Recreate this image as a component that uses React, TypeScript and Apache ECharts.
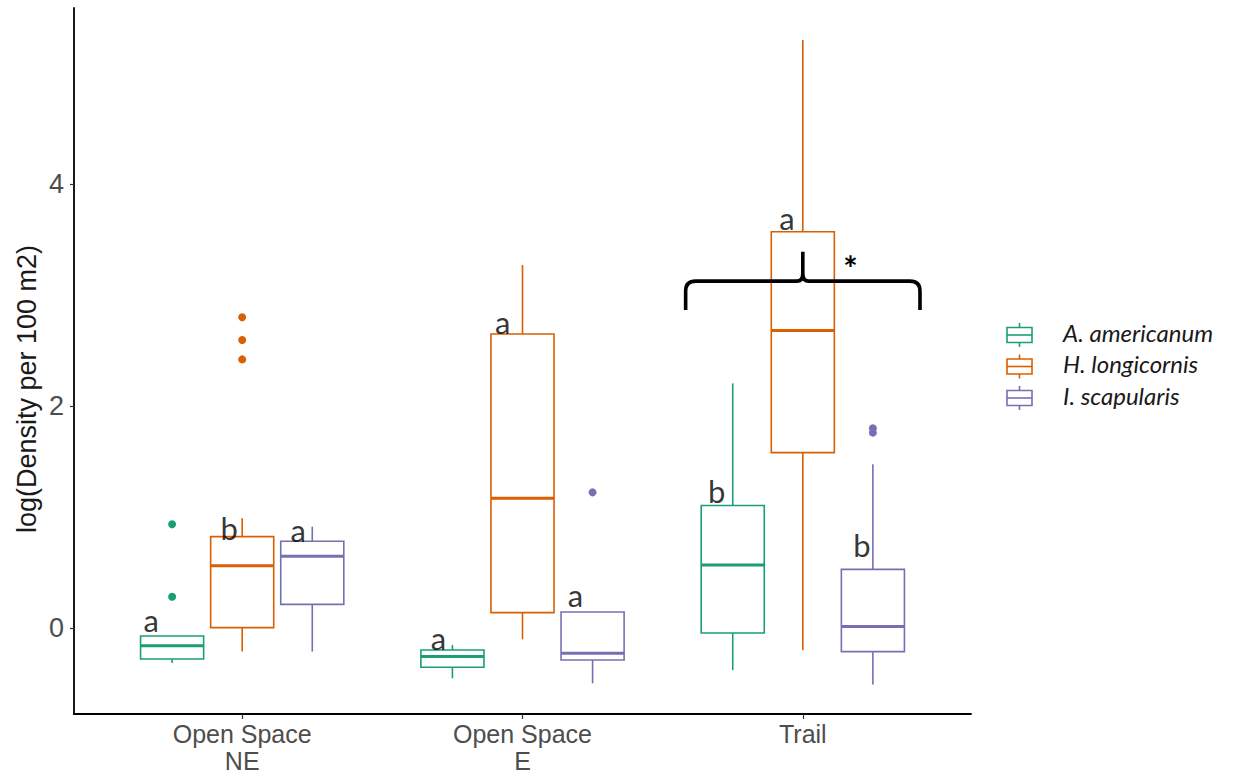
import React, { useEffect, useRef } from "react";
import * as echarts from "echarts";

// Sites on the x axis (positions 1..3)
const sites = ["Open Space\nNE", "Open Space\nE", "Trail"];
const species = ["A. americanum", "H. longicornis", "I. scapularis"];
const colors = ["#1B9E77", "#D95F02", "#7570B3"];

// Box statistics per site: [lower whisker, Q1, median, Q3, upper whisker]
const americanumStats = [
  [-0.315, -0.28, -0.16, -0.072, -0.072],
  [-0.453, -0.354, -0.258, -0.198, -0.153],
  [-0.38, -0.045, 0.567, 1.104, 2.204],
];
const longicornisStats = [
  [-0.213, 0.003, 0.561, 0.823, 0.988],
  [-0.102, 0.138, 1.168, 2.649, 3.27],
  [-0.2, 1.58, 2.68, 3.57, 5.297],
];
const scapularisStats = [
  [-0.213, 0.213, 0.646, 0.781, 0.913],
  [-0.498, -0.288, -0.228, 0.144, 0.144],
  [-0.51, -0.213, 0.013, 0.528, 1.476],
];

// Outliers: [site index (0-based), value]
const americanumOutliers = [
  [0, 0.934],
  [0, 0.282],
];
const longicornisOutliers = [
  [0, 2.8],
  [0, 2.595],
  [0, 2.42],
];
const scapularisOutliers = [
  [1, 1.222],
  [2, 1.8],
  [2, 1.76],
];

// Compact-letter labels: [x (axis units), y, letter]
const groupLetters = [
  [0.675, 0.072, "a"],
  [0.954, 0.9, "b"],
  [1.2, 0.883, "a"],
  [1.7, -0.09, "a"],
  [1.929, 2.757, "a"],
  [2.189, 0.297, "a"],
  [2.693, 1.234, "b"],
  [2.943, 3.694, "a"],
  [3.211, 0.748, "b"],
];

// Brace over the Trail site: [left x, right x, centre x, line y, end y, tip y]
const braceSpan = [2.582, 3.418, 3.0, 3.125, 2.865, 3.39];
const starMark = [3.17, 3.25];

const yTicks = [0, 2, 4];
const xTicks = [1, 2, 3];

const allStats = [americanumStats, longicornisStats, scapularisStats];
const allOutliers = [americanumOutliers, longicornisOutliers, scapularisOutliers];
const dodge = [-0.25, 0, 0.25];
const halfWidth = 0.1125;

export default function App() {
  const ref = useRef<HTMLDivElement>(null);

  useEffect(() => {
    if (!ref.current) return;
    const chart = echarts.init(ref.current, null, { renderer: "svg" });

    const boxSeries = species.map((name, s) => ({
      type: "custom",
      name,
      z: 2,
      data: allStats[s].map((st, i) => [i + 1, ...st]),
      encode: { x: 0, y: [1, 2, 3, 4, 5] },
      renderItem: (_params: any, api: any) => {
        const cx = api.value(0) + dodge[s];
        const lw = api.value(1);
        const q1 = api.value(2);
        const med = api.value(3);
        const q3 = api.value(4);
        const uw = api.value(5);
        const tl = api.coord([cx - halfWidth, q3]);
        const br = api.coord([cx + halfWidth, q1]);
        const pm = api.coord([cx, med]);
        const pu = api.coord([cx, uw]);
        const pl = api.coord([cx, lw]);
        const color = colors[s];
        const children: any[] = [];
        if (pu[1] < tl[1] - 0.5) {
          children.push({
            type: "line",
            shape: { x1: pm[0], y1: pu[1], x2: pm[0], y2: tl[1] },
            style: { stroke: color, lineWidth: 1.6 },
          });
        }
        if (pl[1] > br[1] + 0.5) {
          children.push({
            type: "line",
            shape: { x1: pm[0], y1: br[1], x2: pm[0], y2: pl[1] },
            style: { stroke: color, lineWidth: 1.6 },
          });
        }
        children.push({
          type: "rect",
          shape: { x: tl[0], y: tl[1], width: br[0] - tl[0], height: br[1] - tl[1] },
          style: { fill: "none", stroke: color, lineWidth: 1.6 },
        });
        children.push({
          type: "line",
          shape: { x1: tl[0], y1: pm[1], x2: br[0], y2: pm[1] },
          style: { stroke: color, lineWidth: 3 },
        });
        return { type: "group", children };
      },
    }));

    const outlierSeries = species.map((name, s) => ({
      type: "scatter",
      name: name + " outliers",
      z: 3,
      symbol: "circle",
      symbolSize: 8,
      itemStyle: { color: colors[s], opacity: 1 },
      data: allOutliers[s].map(([i, v]) => [i + 1 + dodge[s], v]),
    }));

    const letterSeries = {
      type: "scatter",
      name: "letters",
      z: 4,
      symbolSize: 0,
      data: groupLetters.map(([x, y, l]) => ({ value: [x, y], name: l })),
      label: {
        show: true,
        position: "inside",
        formatter: "{b}",
        fontFamily: "Lato",
        fontSize: 31,
        color: "#000",
      },
    };

    const braceSeries = {
      type: "custom",
      name: "brace",
      z: 5,
      data: [braceSpan],
      renderItem: (_params: any, api: any) => {
        const [xl, yl] = api.coord([api.value(0), api.value(3)]);
        const [xr] = api.coord([api.value(1), api.value(3)]);
        const [xc, yTip] = api.coord([api.value(2), api.value(5)]);
        const yEnd = api.coord([api.value(0), api.value(4)])[1];
        const d =
          `M${xl},${yEnd} L${xl},${yl + 10} Q${xl},${yl} ${xl + 10},${yl} ` +
          `L${xc - 6},${yl} Q${xc},${yl} ${xc},${yl - 8} L${xc},${yTip} ` +
          `M${xc},${yl - 8} Q${xc},${yl} ${xc + 6},${yl} ` +
          `L${xr - 10},${yl} Q${xr},${yl} ${xr},${yl + 10} L${xr},${yEnd}`;
        const star = api.coord(starMark);
        return {
          type: "group",
          children: [
            {
              type: "path",
              shape: { pathData: d },
              style: { fill: "none", stroke: "#000", lineWidth: 3.6 },
            },
            {
              type: "text",
              x: star[0],
              y: star[1],
              style: {
                text: "*",
                fontFamily: "Lato",
                fontWeight: "bold",
                fontSize: 34,
                fill: "#000",
                align: "center",
                verticalAlign: "middle",
              },
            },
          ],
        };
      },
    };

    // Legend keys: small boxplot glyphs with italic species names
    const legendItems: any[] = [];
    species.forEach((name, i) => {
      const cy = 335 + 31.5 * i;
      const c = colors[i];
      legendItems.push(
        { type: "rect", shape: { x: 1007, y: cy - 7.5, width: 25, height: 15 }, style: { fill: "#fff", stroke: c, lineWidth: 1.6 } },
        { type: "line", shape: { x1: 1007, y1: cy, x2: 1032, y2: cy }, style: { stroke: c, lineWidth: 1.6 } },
        { type: "line", shape: { x1: 1019.5, y1: cy - 12, x2: 1019.5, y2: cy - 7.5 }, style: { stroke: c, lineWidth: 1.6 } },
        { type: "line", shape: { x1: 1019.5, y1: cy + 7.5, x2: 1019.5, y2: cy + 12 }, style: { stroke: c, lineWidth: 1.6 } },
        {
          type: "text",
          x: 1063,
          y: cy - 3,
          style: {
            text: name,
            fontFamily: "Lato",
            fontStyle: "italic",
            fontSize: 24,
            fill: "#1a1a1a",
            align: "left",
            verticalAlign: "middle",
          },
        }
      );
    });

    chart.setOption({
      animation: false,
      backgroundColor: "#fff",
      grid: { left: 74, top: 8, width: 897, height: 706, containLabel: false, outerBoundsMode: "none" },
      xAxis: {
        type: "value",
        min: 0.4,
        max: 3.6,
        splitLine: { show: false },
        axisLine: { show: true, onZero: false, lineStyle: { color: "#000", width: 1.8 } },
        axisTick: { show: true, customValues: xTicks, length: 5, lineStyle: { color: "#333", width: 1.2 } },
        axisLabel: {
          customValues: xTicks,
          formatter: (v: number) => sites[Math.round(v) - 1],
          fontFamily: "Liberation Sans",
          fontSize: 25,
          lineHeight: 27,
          color: "#4d4d4d",
          margin: 6,
        },
      },
      yAxis: {
        type: "value",
        min: -0.775,
        max: 5.586,
        splitLine: { show: false },
        axisLine: { show: true, onZero: false, lineStyle: { color: "#000", width: 1.8 } },
        axisTick: { show: true, customValues: yTicks, length: 4, lineStyle: { color: "#333", width: 1.2 } },
        axisLabel: {
          customValues: yTicks,
          fontFamily: "Liberation Sans",
          fontSize: 27,
          color: "#4d4d4d",
          margin: 10,
        },
      },
      graphic: [
        {
          type: "text",
          x: 27,
          y: 389,
          rotation: Math.PI / 2,
          style: {
            text: "log(Density per 100 m2)",
            fontFamily: "Liberation Sans",
            fontSize: 27,
            fill: "#1a1a1a",
            align: "center",
            verticalAlign: "middle",
          },
        },
        ...legendItems,
      ],
      series: [...boxSeries, ...outlierSeries, letterSeries, braceSeries],
    });

    return () => chart.dispose();
  }, []);

  return (
    <div
      ref={ref}
      style={{ position: "fixed", left: 0, top: 0, width: 1233, height: 775, background: "#fff" }}
    />
  );
}
